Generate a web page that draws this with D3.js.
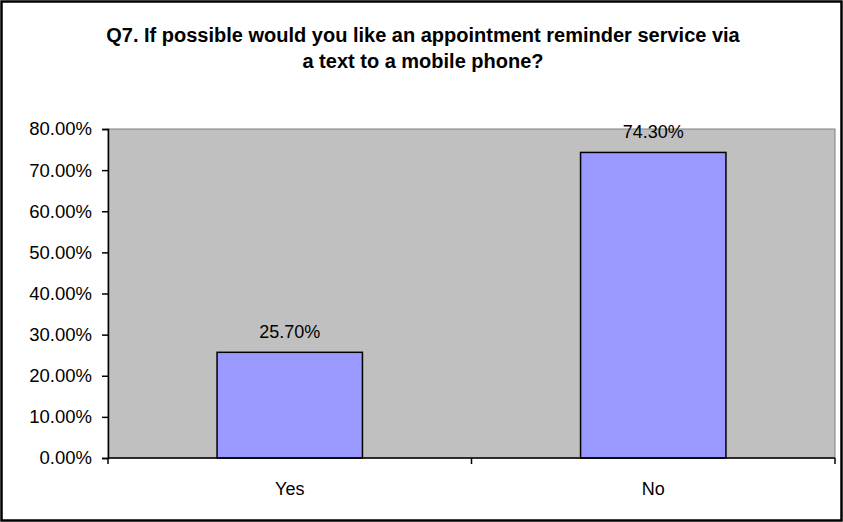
<!DOCTYPE html>
<html>
<head>
<meta charset="utf-8">
<script src="https://cdn.jsdelivr.net/npm/d3@7"></script>
<style>
  body { margin: 0; background: #fff; }
  svg { display: block; font-family: "Liberation Sans", Arial, sans-serif; }
</style>
</head>
<body>
<svg width="843" height="522"></svg>
<script>
const categories = ["Yes", "No"];
const values = [25.7, 74.3];
const yTicks = [0, 10, 20, 30, 40, 50, 60, 70, 80];
const titleLines = [
  "Q7. If possible would you like an appointment reminder service via",
  "a text to a mobile phone?"
];

const svg = d3.select("svg");
const plot = { left: 108, right: 835, top: 129, bottom: 458 };

// outer chart frame
svg.append("rect")
  .attr("x", 1.5).attr("y", 1.5)
  .attr("width", 840).attr("height", 519)
  .attr("fill", "#fff")
  .attr("stroke", "#000")
  .attr("stroke-width", 2.5);

svg.append("g")
  .selectAll("text")
  .data(titleLines)
  .join("text")
  .attr("x", 423)
  .attr("y", (d, i) => 42 + i * 26)
  .attr("text-anchor", "middle")
  .attr("font-weight", "bold")
  .attr("font-size", 20)
  .text(d => d);

const x = d3.scaleBand()
  .domain(categories)
  .range([plot.left, plot.right])
  .paddingInner(0.6)
  .paddingOuter(0.3);

const y = d3.scaleLinear()
  .domain([0, 80])
  .range([plot.bottom, plot.top]);

// plot area
svg.append("rect")
  .attr("x", plot.left).attr("y", plot.top)
  .attr("width", plot.right - plot.left)
  .attr("height", plot.bottom - plot.top)
  .attr("fill", "#c0c0c0")
  .attr("stroke", "#808080")
  .attr("stroke-width", 1);

svg.selectAll("rect.bar")
  .data(values)
  .join("rect")
  .attr("class", "bar")
  .attr("x", (d, i) => x(categories[i]))
  .attr("y", d => y(d))
  .attr("width", x.bandwidth())
  .attr("height", d => y(0) - y(d))
  .attr("fill", "#9999ff")
  .attr("stroke", "#000")
  .attr("stroke-width", 1.5);

svg.selectAll("text.val")
  .data(values)
  .join("text")
  .attr("class", "val")
  .attr("x", (d, i) => x(categories[i]) + x.bandwidth() / 2)
  .attr("y", d => y(d) - 14)
  .attr("text-anchor", "middle")
  .attr("font-size", 18)
  .text(d => d.toFixed(2) + "%");

// y axis
const yAxis = svg.append("g")
  .attr("transform", `translate(${plot.left},0)`)
  .call(d3.axisLeft(y).tickValues(yTicks).tickSize(6).tickPadding(10)
    .tickFormat(d => d.toFixed(2) + "%"));
yAxis.select(".domain").attr("stroke", "#000").attr("stroke-width", 1.5);
yAxis.selectAll(".tick line").attr("stroke", "#000").attr("stroke-width", 1.5);
yAxis.selectAll(".tick text")
  .attr("font-size", 18.5)
  .attr("font-family", "Liberation Sans, Arial, sans-serif")
  .attr("fill", "#000");

// x axis: ticks at band boundaries
const bounds = [plot.left, (plot.left + plot.right) / 2, plot.right];
const xAxis = svg.append("g")
  .attr("transform", `translate(0,${plot.bottom})`);
xAxis.append("line")
  .attr("x1", plot.left).attr("x2", plot.right)
  .attr("stroke", "#000").attr("stroke-width", 1.5);
xAxis.selectAll("line.tk")
  .data(bounds)
  .join("line")
  .attr("class", "tk")
  .attr("x1", d => d).attr("x2", d => d)
  .attr("y1", 0).attr("y2", 6)
  .attr("stroke", "#000").attr("stroke-width", 1.5);
xAxis.selectAll("text")
  .data(categories)
  .join("text")
  .attr("x", d => x(d) + x.bandwidth() / 2)
  .attr("y", 37)
  .attr("text-anchor", "middle")
  .attr("font-size", 18)
  .text(d => d);
</script>
</body>
</html>
